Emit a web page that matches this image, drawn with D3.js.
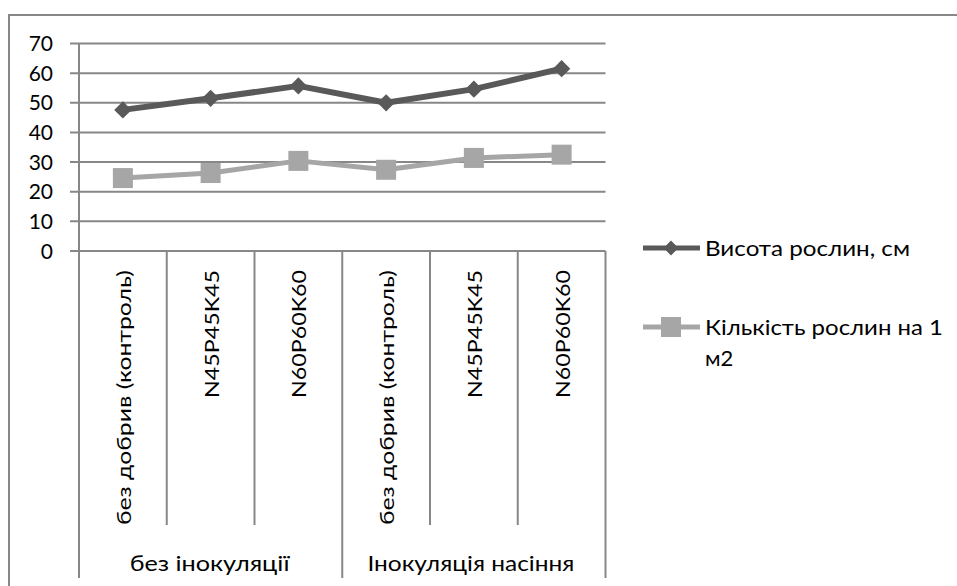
<!DOCTYPE html>
<html><head><meta charset="utf-8">
<script src="https://cdn.jsdelivr.net/npm/d3@7"></script>
<style>body{margin:0;background:#fff}svg{display:block}text{font-family:Lato,"Open Sans",sans-serif;fill:#000}</style>
</head><body><svg id="c" width="957" height="586"></svg>
<script>
const categories = ["без добрив (контроль)","N45P45K45","N60P60K60","без добрив (контроль)","N45P45K45","N60P60K60"];
const groups = ["без інокуляції","Інокуляція насіння"];
const heightValues = [47.6, 51.5, 55.7, 50.0, 54.6, 61.5];
const countValues = [24.6, 26.3, 30.4, 27.4, 31.4, 32.5];
const seriesNames = ["Висота рослин, см", "Кількість рослин на 1 м2"];
const yTicks = [0,10,20,30,40,50,60,70];

const svg = d3.select("#c");
const L = 79, R = 605.5, T = 43.5, B = 251;
const gridColor = "#878787";

// outer border (cut off at right/bottom)
svg.append("rect").attr("x",9).attr("y",15).attr("width",1000).attr("height",1000)
  .attr("fill","none").attr("stroke",gridColor).attr("stroke-width",2);

const x = d3.scaleBand().domain(d3.range(categories.length)).range([L,R]).padding(0);
const y = d3.scaleLinear().domain([0,70]).range([B,T]);

// gridlines
svg.append("g").selectAll("line").data(yTicks).join("line")
  .attr("x1",L-9).attr("x2",R).attr("y1",d=>y(d)).attr("y2",d=>y(d))
  .attr("stroke",gridColor).attr("stroke-width",2);

// y axis line
svg.append("line").attr("x1",L).attr("x2",L).attr("y1",T).attr("y2",578)
  .attr("stroke",gridColor).attr("stroke-width",2);
// y tick labels
svg.append("g").selectAll("text").data(yTicks).join("text")
  .attr("x",53).attr("y",d=>y(d)).attr("dy","0.36em").attr("text-anchor","end")
  .attr("font-size",21).attr("fill","#111").text(d=>d);

// category dividers
const divs = d3.range(1, categories.length+1);
svg.append("g").selectAll("line").data(divs).join("line")
  .attr("x1",d=>x(d-1)+x.bandwidth()).attr("x2",d=>x(d-1)+x.bandwidth())
  .attr("y1",B).attr("y2",d=> (d%3===0) ? 578 : 525)
  .attr("stroke",gridColor).attr("stroke-width",2);

// category labels rotated
svg.append("g").selectAll("text").data(categories).join("text")
  .attr("transform",(d,i)=>`translate(${x(i)+x.bandwidth()/2+8},270) rotate(-90)`)
  .attr("text-anchor","end").attr("font-size",20)
  .attr("textLength",d=> d.length>12 ? 255 : 128).attr("lengthAdjust","spacingAndGlyphs")
  .text(d=>d);

// group labels
const groupLen = [160, 207];
svg.append("g").selectAll("text").data(groups).join("text")
  .attr("x",(d,i)=> (x(i*3)+x(i*3+2)+x.bandwidth())/2 - groupLen[i]/2 + (i===0?-1:-3))
  .attr("y",571).attr("font-size",22)
  .attr("textLength",(d,i)=>groupLen[i]).attr("lengthAdjust","spacingAndGlyphs")
  .attr("fill","#222").text(d=>d);

const line = d3.line().x((d,i)=>x(i)+x.bandwidth()/2).y(d=>y(d));
const c1 = "#595959", c2 = "#a6a6a6";

svg.append("path").datum(countValues).attr("d",line).attr("fill","none")
  .attr("stroke",c2).attr("stroke-width",5).attr("stroke-linejoin","round");
svg.append("g").selectAll("rect").data(countValues).join("rect")
  .attr("x",(d,i)=>x(i)+x.bandwidth()/2-10).attr("y",d=>y(d)-10)
  .attr("width",20).attr("height",20).attr("fill",c2);

svg.append("path").datum(heightValues).attr("d",line).attr("fill","none")
  .attr("stroke",c1).attr("stroke-width",6).attr("stroke-linejoin","round");
svg.append("g").selectAll("path").data(heightValues).join("path")
  .attr("d",d3.symbol().type(d3.symbolSquare).size(150)).attr("fill",c1)
  .attr("transform",(d,i)=>`translate(${x(i)+x.bandwidth()/2},${y(d)}) rotate(45)`);

// legend
const lg = svg.append("g");
lg.append("line").attr("x1",643).attr("x2",700).attr("y1",248).attr("y2",248).attr("stroke",c1).attr("stroke-width",5);
lg.append("path").attr("transform","translate(671,248) rotate(45)").attr("d",d3.symbol().type(d3.symbolSquare).size(110)).attr("fill",c1);
lg.append("text").attr("x",705).attr("y",248).attr("dy","0.36em").attr("font-size",22)
  .attr("textLength",205).attr("lengthAdjust","spacingAndGlyphs").attr("fill","#111").text(seriesNames[0]);

lg.append("line").attr("x1",643).attr("x2",700).attr("y1",327).attr("y2",327).attr("stroke",c2).attr("stroke-width",5);
lg.append("rect").attr("x",661).attr("y",317).attr("width",20).attr("height",20).attr("fill",c2);
lg.append("text").attr("x",705).attr("y",327).attr("dy","0.36em").attr("font-size",22)
  .attr("textLength",238).attr("lengthAdjust","spacingAndGlyphs").attr("fill","#111").text("Кількість рослин на 1");
lg.append("text").attr("x",705).attr("y",358).attr("dy","0.36em").attr("font-size",22)
  .attr("fill","#111").text("м2");
</script></body></html>
